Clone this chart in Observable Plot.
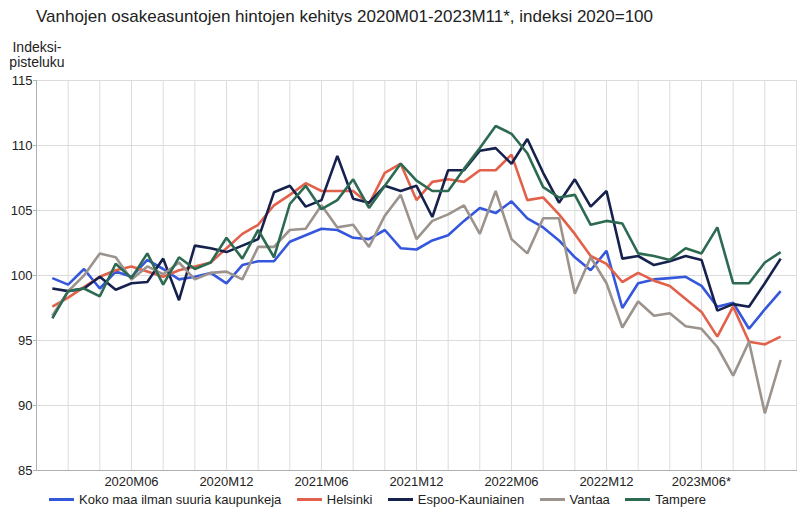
<!DOCTYPE html>
<html><head><meta charset="utf-8">
<script src="https://cdn.jsdelivr.net/npm/d3@7"></script>
<script src="https://cdn.jsdelivr.net/npm/@observablehq/plot@0.6"></script>
<style>
body{margin:0;background:#fff;font-family:"Liberation Sans",Arial,sans-serif;}
#wrap{position:relative;width:800px;height:517px;overflow:hidden;}
#title{position:absolute;left:36px;top:7px;font-size:17px;color:#222;white-space:nowrap;}
#ylab{position:absolute;left:0;width:74px;top:40px;font-size:14px;text-align:center;line-height:15px;color:#222;}
#chart{position:absolute;left:0;top:0;}
#legend{position:absolute;left:49px;top:492px;display:flex;align-items:center;font-size:13px;color:#222;white-space:nowrap;}
#legend .item{display:flex;align-items:center;margin-right:15.5px;}
#legend .sw{width:25px;height:3px;margin-right:5px;}
</style></head>
<body><div id="wrap">
<div id="chart"></div>
<div id="title">Vanhojen osakeasuntojen hintojen kehitys 2020M01-2023M11*, indeksi 2020=100</div>
<div id="ylab">Indeksi-<br>pisteluku</div>
<div id="legend"></div>
</div>
<script>
const months = ["2020M01","2020M02","2020M03","2020M04","2020M05","2020M06","2020M07","2020M08","2020M09","2020M10","2020M11","2020M12",
"2021M01","2021M02","2021M03","2021M04","2021M05","2021M06","2021M07","2021M08","2021M09","2021M10","2021M11","2021M12",
"2022M01","2022M02","2022M03","2022M04","2022M05","2022M06","2022M07","2022M08","2022M09","2022M10","2022M11","2022M12",
"2023M01","2023M02","2023M03","2023M04","2023M05","2023M06*","2023M07*","2023M08*","2023M09*","2023M10*","2023M11*"];
const tickMonths = ["2020M06","2020M12","2021M06","2021M12","2022M06","2022M12","2023M06*"];
const seriesNames = ["Koko maa ilman suuria kaupunkeja","Helsinki","Espoo-Kauniainen","Vantaa","Tampere"];
const kokoMaa = [99.8,99.3,100.5,99.0,100.3,99.9,101.2,100.5,99.7,99.9,100.2,99.4,100.8,101.1,101.1,102.6,103.1,103.6,103.5,102.9,102.8,103.5,102.1,102.0,102.7,103.1,104.2,105.2,104.8,105.7,104.4,103.7,102.7,101.4,100.4,101.9,97.5,99.4,99.7,99.8,99.9,99.2,97.6,97.9,95.9,97.4,98.8];
const helsinki = [97.6,98.3,99.1,99.9,100.4,100.7,100.3,99.9,100.4,100.7,101.0,102.1,103.2,103.9,105.4,106.2,107.1,106.5,106.5,106.5,105.5,107.9,108.6,105.8,107.2,107.4,107.2,108.1,108.1,109.3,105.8,106.0,104.7,103.2,101.5,100.9,99.5,100.2,99.6,99.2,98.2,97.2,95.3,97.6,94.9,94.7,95.3];
const espoo = [99.0,98.8,99.0,99.9,98.9,99.4,99.5,101.3,98.1,102.3,102.1,101.8,102.3,102.8,106.4,106.9,105.3,105.8,109.2,105.9,105.6,106.9,106.5,106.9,104.5,108.1,108.1,109.6,109.8,108.6,110.5,107.9,105.6,107.4,105.3,106.5,101.3,101.5,100.8,101.1,101.5,101.2,97.3,97.8,97.6,99.4,101.3];
const vantaa = [96.9,98.8,100.0,101.7,101.4,99.7,100.7,100.1,101.0,99.7,100.2,100.3,99.7,102.2,102.2,103.5,103.6,105.4,103.7,103.9,102.2,104.6,106.2,102.8,104.2,104.7,105.4,103.2,106.5,102.8,101.7,104.4,104.4,98.6,101.4,99.4,96.0,98.0,96.9,97.1,96.1,95.9,94.5,92.3,94.9,89.4,93.5];
const tampere = [96.7,98.8,99.0,98.4,100.9,99.8,101.7,99.3,101.4,100.5,101.0,102.9,101.3,103.5,101.4,105.5,106.9,105.1,105.8,107.4,105.2,106.9,108.6,107.3,106.5,106.5,108.2,109.8,111.5,110.9,109.4,106.8,106.0,106.2,103.9,104.2,104.0,101.7,101.5,101.2,102.1,101.7,103.7,99.4,99.4,101.0,101.8];
const yTicks = [85,90,95,100,105,110,115];

const colors = ["#3557dc","#e2614b","#16224d","#9c938d","#2d6a52"];
const seriesValues = [kokoMaa, helsinki, espoo, vantaa, tampere];
const data = seriesNames.flatMap((name, s) => seriesValues[s].map((v, i) => ({month: months[i], value: v, series: name})));
const gridMonths = months.filter((m, i) => i % 2 === 1);

const chart = Plot.plot({
  width: 800, height: 490,
  marginTop: 80, marginBottom: 20, marginLeft: 36, marginRight: 4,
  style: {fontFamily: '"Liberation Sans", Arial, sans-serif', fontSize: "13px", color: "#222", background: "transparent"},
  x: {type: "point", domain: months, padding: 1},
  y: {domain: [85, 115]},
  color: {domain: seriesNames, range: colors},
  marks: [
    Plot.gridY(yTicks, {stroke: "#dcdcdc", strokeOpacity: 1}),
    Plot.gridX(gridMonths, {stroke: "#dcdcdc", strokeOpacity: 1}),
    Plot.frame({anchor: "right", stroke: "#dcdcdc"}),
    Plot.frame({anchor: "left", stroke: "#b0b0b0"}),
    Plot.frame({anchor: "bottom", stroke: "#b0b0b0"}),
    Plot.axisY(yTicks, {tickSize: 3, tickPadding: 1, stroke: "#b0b0b0", label: null, fill: "#222", fontSize: 13}),
    Plot.axisX(tickMonths, {tickSize: 0, tickPadding: 6, label: null, fill: "#222", fontSize: 13}),
    Plot.line(data, {x: "month", y: "value", z: "series", stroke: "series", strokeWidth: 2.6, strokeLinejoin: "miter", strokeLinecap: "butt"})
  ]
});
document.getElementById("chart").appendChild(chart);

const legend = document.getElementById("legend");
seriesNames.forEach((name, i) => {
  const item = document.createElement("div");
  item.className = "item";
  const sw = document.createElement("span");
  sw.className = "sw";
  sw.style.background = colors[i];
  const t = document.createElement("span");
  t.textContent = name;
  item.appendChild(sw); item.appendChild(t);
  legend.appendChild(item);
});
</script>
</body></html>
